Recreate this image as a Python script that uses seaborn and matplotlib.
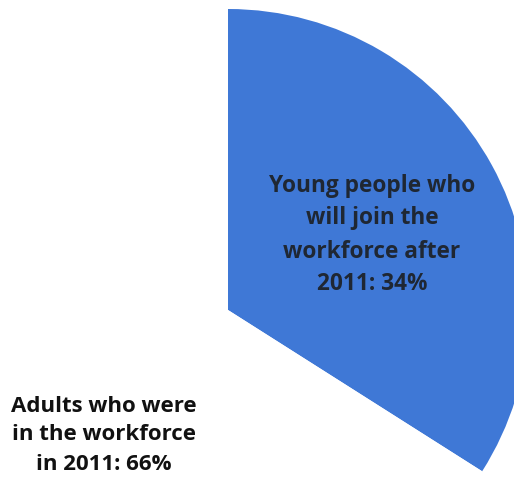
import matplotlib
matplotlib.use("Agg")
import matplotlib.pyplot as plt
import seaborn as sns

categories = ["Young people who\nwill join the\nworkforce after\n2011", "Adults who were\nin the workforce\nin 2011"]
values = [34, 66]
colors = ["#3f78d6", "#ffffff"]

sns.set_theme(style="white")
plt.rcParams['font.family'] = ['Open Sans', 'DejaVu Sans']

fig = plt.figure(figsize=(5.14, 4.83), dpi=100)
ax = fig.add_axes([0, 0, 1, 1])

ax.pie(values, colors=colors, startangle=90, counterclock=False,
       center=(228, 173), radius=301, frame=True,
       wedgeprops=dict(linewidth=0))
ax.set_xlim(0, 514)
ax.set_ylim(0, 483)
ax.set_aspect('equal')
ax.axis('off')

label_pos = [(372, 248), (104, 48)]
text_colors = ["#1f2733", "#111111"]
sizes = [16.3, 16.0]
for cat, val, (x, y), tc, fs in zip(categories, values, label_pos, text_colors, sizes):
    ax.text(x, y, f"{cat}: {val}%", ha='center', va='center', fontsize=fs,
            fontweight='bold', color=tc, linespacing=1.5)

fig.savefig("out.png", dpi=100)
